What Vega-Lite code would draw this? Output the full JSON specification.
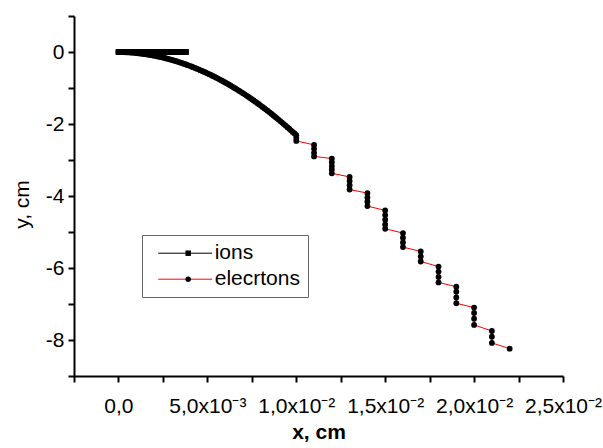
{
  "$schema": "https://vega.github.io/schema/vega-lite/v6.json",
  "width": 489,
  "height": 360,
  "autosize": "none",
  "padding": {"left": 74, "top": 16, "right": 40, "bottom": 72},
  "background": "white",
  "config": {"view": {"stroke": null}},
  "data": {"values": [
    {"series":"ions","x":0,"y":0},{"series":"ions","x":0.0001,"y":0},{"series":"ions","x":0.0002,"y":0},{"series":"ions","x":0.0003,"y":0},{"series":"ions","x":0.0004,"y":0},
    {"series":"ions","x":0.0005,"y":0},{"series":"ions","x":0.0006,"y":0},{"series":"ions","x":0.0007,"y":0},{"series":"ions","x":0.0008,"y":0},{"series":"ions","x":0.0009,"y":0},
    {"series":"ions","x":0.001,"y":0},{"series":"ions","x":0.0011,"y":0},{"series":"ions","x":0.0012,"y":0},{"series":"ions","x":0.0013,"y":0},{"series":"ions","x":0.0014,"y":0},
    {"series":"ions","x":0.0015,"y":0},{"series":"ions","x":0.0016,"y":0},{"series":"ions","x":0.0017,"y":0},{"series":"ions","x":0.0018,"y":0},{"series":"ions","x":0.0019,"y":0},
    {"series":"ions","x":0.002,"y":0},{"series":"ions","x":0.0021,"y":0},{"series":"ions","x":0.0022,"y":0},{"series":"ions","x":0.0023,"y":0},{"series":"ions","x":0.0024,"y":0},
    {"series":"ions","x":0.0025,"y":0},{"series":"ions","x":0.0026,"y":0},{"series":"ions","x":0.0027,"y":0},{"series":"ions","x":0.0028,"y":0},{"series":"ions","x":0.0029,"y":0},
    {"series":"ions","x":0.003,"y":0},{"series":"ions","x":0.0031,"y":0},{"series":"ions","x":0.0032,"y":0},{"series":"ions","x":0.0033,"y":0},{"series":"ions","x":0.0034,"y":0},
    {"series":"ions","x":0.0035,"y":0},{"series":"ions","x":0.0036,"y":0},{"series":"ions","x":0.0037,"y":0},{"series":"ions","x":0.0038,"y":0},
    {"series":"elecrtons","x":0,"y":0},{"series":"elecrtons","x":0.0001,"y":-0.0008},{"series":"elecrtons","x":0.0002,"y":-0.0021},{"series":"elecrtons","x":0.0003,"y":-0.0038},{"series":"elecrtons","x":0.0004,"y":-0.006},
    {"series":"elecrtons","x":0.0005,"y":-0.0086},{"series":"elecrtons","x":0.0006,"y":-0.0117},{"series":"elecrtons","x":0.0007,"y":-0.0152},{"series":"elecrtons","x":0.0008,"y":-0.0192},{"series":"elecrtons","x":0.0009,"y":-0.0236},
    {"series":"elecrtons","x":0.001,"y":-0.0285},{"series":"elecrtons","x":0.0011,"y":-0.0338},{"series":"elecrtons","x":0.0012,"y":-0.0396},{"series":"elecrtons","x":0.0013,"y":-0.0458},{"series":"elecrtons","x":0.0014,"y":-0.0525},
    {"series":"elecrtons","x":0.0015,"y":-0.0596},{"series":"elecrtons","x":0.0016,"y":-0.0672},{"series":"elecrtons","x":0.0017,"y":-0.0752},{"series":"elecrtons","x":0.0018,"y":-0.0837},{"series":"elecrtons","x":0.0019,"y":-0.0926},
    {"series":"elecrtons","x":0.002,"y":-0.102},{"series":"elecrtons","x":0.0021,"y":-0.1118},{"series":"elecrtons","x":0.0022,"y":-0.1221},{"series":"elecrtons","x":0.0023,"y":-0.1328},{"series":"elecrtons","x":0.0024,"y":-0.144},
    {"series":"elecrtons","x":0.0025,"y":-0.1556},{"series":"elecrtons","x":0.0026,"y":-0.1677},{"series":"elecrtons","x":0.0027,"y":-0.1802},{"series":"elecrtons","x":0.0028,"y":-0.1932},{"series":"elecrtons","x":0.0029,"y":-0.2066},
    {"series":"elecrtons","x":0.003,"y":-0.2205},{"series":"elecrtons","x":0.0031,"y":-0.2348},{"series":"elecrtons","x":0.0032,"y":-0.2496},{"series":"elecrtons","x":0.0033,"y":-0.2648},{"series":"elecrtons","x":0.0034,"y":-0.2805},
    {"series":"elecrtons","x":0.0035,"y":-0.2966},{"series":"elecrtons","x":0.0036,"y":-0.3132},{"series":"elecrtons","x":0.0037,"y":-0.3302},{"series":"elecrtons","x":0.0038,"y":-0.3477},{"series":"elecrtons","x":0.0039,"y":-0.3656},
    {"series":"elecrtons","x":0.004,"y":-0.384},{"series":"elecrtons","x":0.0041,"y":-0.4028},{"series":"elecrtons","x":0.0042,"y":-0.4221},{"series":"elecrtons","x":0.0043,"y":-0.4418},{"series":"elecrtons","x":0.0044,"y":-0.462},
    {"series":"elecrtons","x":0.0045,"y":-0.4826},{"series":"elecrtons","x":0.0046,"y":-0.5037},{"series":"elecrtons","x":0.0047,"y":-0.5252},{"series":"elecrtons","x":0.0048,"y":-0.5472},{"series":"elecrtons","x":0.0049,"y":-0.5696},
    {"series":"elecrtons","x":0.005,"y":-0.5925},{"series":"elecrtons","x":0.0051,"y":-0.6158},{"series":"elecrtons","x":0.0052,"y":-0.6396},{"series":"elecrtons","x":0.0053,"y":-0.6638},{"series":"elecrtons","x":0.0054,"y":-0.6885},
    {"series":"elecrtons","x":0.0055,"y":-0.7136},{"series":"elecrtons","x":0.0056,"y":-0.7392},{"series":"elecrtons","x":0.0057,"y":-0.7652},{"series":"elecrtons","x":0.0058,"y":-0.7917},{"series":"elecrtons","x":0.0059,"y":-0.8186},
    {"series":"elecrtons","x":0.006,"y":-0.846},{"series":"elecrtons","x":0.0061,"y":-0.8738},{"series":"elecrtons","x":0.0062,"y":-0.9021},{"series":"elecrtons","x":0.0063,"y":-0.9308},{"series":"elecrtons","x":0.0064,"y":-0.96},
    {"series":"elecrtons","x":0.0065,"y":-0.9896},{"series":"elecrtons","x":0.0066,"y":-1.0197},{"series":"elecrtons","x":0.0067,"y":-1.0502},{"series":"elecrtons","x":0.0068,"y":-1.0812},{"series":"elecrtons","x":0.0069,"y":-1.1126},
    {"series":"elecrtons","x":0.007,"y":-1.1445},{"series":"elecrtons","x":0.0071,"y":-1.1768},{"series":"elecrtons","x":0.0072,"y":-1.2096},{"series":"elecrtons","x":0.0073,"y":-1.2428},{"series":"elecrtons","x":0.0074,"y":-1.2765},
    {"series":"elecrtons","x":0.0075,"y":-1.3106},{"series":"elecrtons","x":0.0076,"y":-1.3452},{"series":"elecrtons","x":0.0077,"y":-1.3802},{"series":"elecrtons","x":0.0078,"y":-1.4157},{"series":"elecrtons","x":0.0079,"y":-1.4516},
    {"series":"elecrtons","x":0.008,"y":-1.488},{"series":"elecrtons","x":0.0081,"y":-1.5248},{"series":"elecrtons","x":0.0082,"y":-1.5621},{"series":"elecrtons","x":0.0083,"y":-1.5998},{"series":"elecrtons","x":0.0084,"y":-1.638},
    {"series":"elecrtons","x":0.0085,"y":-1.6766},{"series":"elecrtons","x":0.0086,"y":-1.7157},{"series":"elecrtons","x":0.0087,"y":-1.7552},{"series":"elecrtons","x":0.0088,"y":-1.7952},{"series":"elecrtons","x":0.0089,"y":-1.8356},
    {"series":"elecrtons","x":0.009,"y":-1.8765},{"series":"elecrtons","x":0.0091,"y":-1.9178},{"series":"elecrtons","x":0.0092,"y":-1.9596},{"series":"elecrtons","x":0.0093,"y":-2.0018},{"series":"elecrtons","x":0.0094,"y":-2.0445},
    {"series":"elecrtons","x":0.0095,"y":-2.0876},{"series":"elecrtons","x":0.0096,"y":-2.1312},{"series":"elecrtons","x":0.0097,"y":-2.1752},{"series":"elecrtons","x":0.0098,"y":-2.2197},{"series":"elecrtons","x":0.0099,"y":-2.2646},
    {"series":"elecrtons","x":0.01,"y":-2.31},{"series":"elecrtons","x":0.01,"y":-2.39},{"series":"elecrtons","x":0.01,"y":-2.47},
    {"series":"elecrtons","x":0.011,"y":-2.58},{"series":"elecrtons","x":0.011,"y":-2.69},{"series":"elecrtons","x":0.011,"y":-2.8},{"series":"elecrtons","x":0.011,"y":-2.9},
    {"series":"elecrtons","x":0.012,"y":-2.96},{"series":"elecrtons","x":0.012,"y":-3.06},{"series":"elecrtons","x":0.012,"y":-3.17},{"series":"elecrtons","x":0.012,"y":-3.27},{"series":"elecrtons","x":0.012,"y":-3.37},
    {"series":"elecrtons","x":0.013,"y":-3.47},{"series":"elecrtons","x":0.013,"y":-3.58},{"series":"elecrtons","x":0.013,"y":-3.7},{"series":"elecrtons","x":0.013,"y":-3.82},
    {"series":"elecrtons","x":0.014,"y":-3.92},{"series":"elecrtons","x":0.014,"y":-4.04},{"series":"elecrtons","x":0.014,"y":-4.16},{"series":"elecrtons","x":0.014,"y":-4.28},
    {"series":"elecrtons","x":0.015,"y":-4.4},{"series":"elecrtons","x":0.015,"y":-4.53},{"series":"elecrtons","x":0.015,"y":-4.66},{"series":"elecrtons","x":0.015,"y":-4.79},{"series":"elecrtons","x":0.015,"y":-4.91},
    {"series":"elecrtons","x":0.016,"y":-5.03},{"series":"elecrtons","x":0.016,"y":-5.16},{"series":"elecrtons","x":0.016,"y":-5.29},{"series":"elecrtons","x":0.016,"y":-5.42},
    {"series":"elecrtons","x":0.017,"y":-5.54},{"series":"elecrtons","x":0.017,"y":-5.68},{"series":"elecrtons","x":0.017,"y":-5.82},
    {"series":"elecrtons","x":0.018,"y":-5.96},{"series":"elecrtons","x":0.018,"y":-6.1},{"series":"elecrtons","x":0.018,"y":-6.25},{"series":"elecrtons","x":0.018,"y":-6.4},
    {"series":"elecrtons","x":0.019,"y":-6.52},{"series":"elecrtons","x":0.019,"y":-6.66},{"series":"elecrtons","x":0.019,"y":-6.82},{"series":"elecrtons","x":0.019,"y":-6.98},
    {"series":"elecrtons","x":0.02,"y":-7.1},{"series":"elecrtons","x":0.02,"y":-7.25},{"series":"elecrtons","x":0.02,"y":-7.41},{"series":"elecrtons","x":0.02,"y":-7.58},
    {"series":"elecrtons","x":0.021,"y":-7.75},{"series":"elecrtons","x":0.021,"y":-7.91},{"series":"elecrtons","x":0.021,"y":-8.08},
    {"series":"elecrtons","x":0.022,"y":-8.24}
  ]},
  "encoding": {
    "x": {"field": "x", "type": "quantitative",
      "scale": {"domain": [-0.0025, 0.025], "nice": false, "zero": false},
      "axis": {"title": "x, cm",
        "values": [-0.0025, 0, 0.0025, 0.005, 0.0075, 0.01, 0.0125, 0.015, 0.0175, 0.02, 0.0225, 0.025],
        "labelExpr": "round(datum.value*10000)==0 ? '0,0' : round(datum.value*10000)==50 ? '5,0x10⁻³' : round(datum.value*10000)==100 ? '1,0x10⁻²' : round(datum.value*10000)==150 ? '1,5x10⁻²' : round(datum.value*10000)==200 ? '2,0x10⁻²' : round(datum.value*10000)==250 ? '2,5x10⁻²' : ''",
        "labelOverlap": false, "labelFlush": false, "labelBound": false, "grid": false,
        "domainColor": "black", "domainWidth": 2, "tickColor": "black", "tickWidth": 2, "tickSize": 6,
        "labelFont": "Liberation Sans", "labelFontSize": 21, "labelColor": "black", "labelPadding": 13,
        "titleFont": "Liberation Sans", "titleFontSize": 21, "titleFontWeight": "bold", "titleColor": "black",
        "titleBaseline": "alphabetic", "titleY": 62}},
    "y": {"field": "y", "type": "quantitative",
      "scale": {"domain": [-9, 1], "nice": false, "zero": false},
      "axis": {"title": "y, cm",
        "values": [-9, -8, -7, -6, -5, -4, -3, -2, -1, 0, 1],
        "labelExpr": "datum.value == 0 ? '0' : (datum.value % 2 == 0 ? '-' + abs(datum.value) : '')",
        "labelOverlap": false, "labelFlush": false, "labelBound": false, "grid": false,
        "domainColor": "black", "domainWidth": 2, "tickColor": "black", "tickWidth": 2, "tickSize": 6,
        "labelFont": "Liberation Sans", "labelFontSize": 21, "labelColor": "black", "labelPadding": 4,
        "titleFont": "Liberation Sans", "titleFontSize": 21, "titleFontWeight": "normal", "titleColor": "black",
        "titleAngle": 270, "titleBaseline": "alphabetic", "titleAlign": "center", "titleX": -46, "titleY": 188}}
  },
  "layer": [
    {
      "mark": {"type": "line", "strokeWidth": 1},
      "encoding": {
        "stroke": {"field": "series", "type": "nominal",
          "scale": {"domain": ["ions", "elecrtons"], "range": ["black", "#ff0000"]},
          "legend": {"orient": "none", "legendX": 68, "legendY": 219, "direction": "vertical", "title": null,
            "padding": 7.7, "rowPadding": 4, "symbolType": "M-5,0L5,0", "symbolSize": 116.6, "symbolStrokeWidth": 1,
            "symbolOffset": 25, "labelOffset": 19, "labelFont": "Liberation Sans", "labelFontSize": 21, "labelColor": "black",
            "strokeColor": "#666666"}},
        "order": {"value": null}
      }
    },
    {
      "mark": {"type": "point", "filled": true, "color": "black", "opacity": 1, "size": 34, "strokeWidth": 0},
      "encoding": {
        "shape": {"field": "series", "type": "nominal", "sort": "descending",
          "scale": {"range": ["square", "circle"]},
          "legend": {"orient": "none", "legendX": 92, "legendY": 219, "direction": "vertical", "title": null,
            "padding": 7.7, "rowPadding": 4, "symbolSize": 30, "symbolFillColor": "black", "symbolStrokeWidth": 0,
            "symbolOffset": 4, "labelOffset": 6, "labelFont": "Liberation Sans", "labelFontSize": 21, "labelOpacity": 0,
            "labelExpr": "''"}}
      }
    }
  ]
}
